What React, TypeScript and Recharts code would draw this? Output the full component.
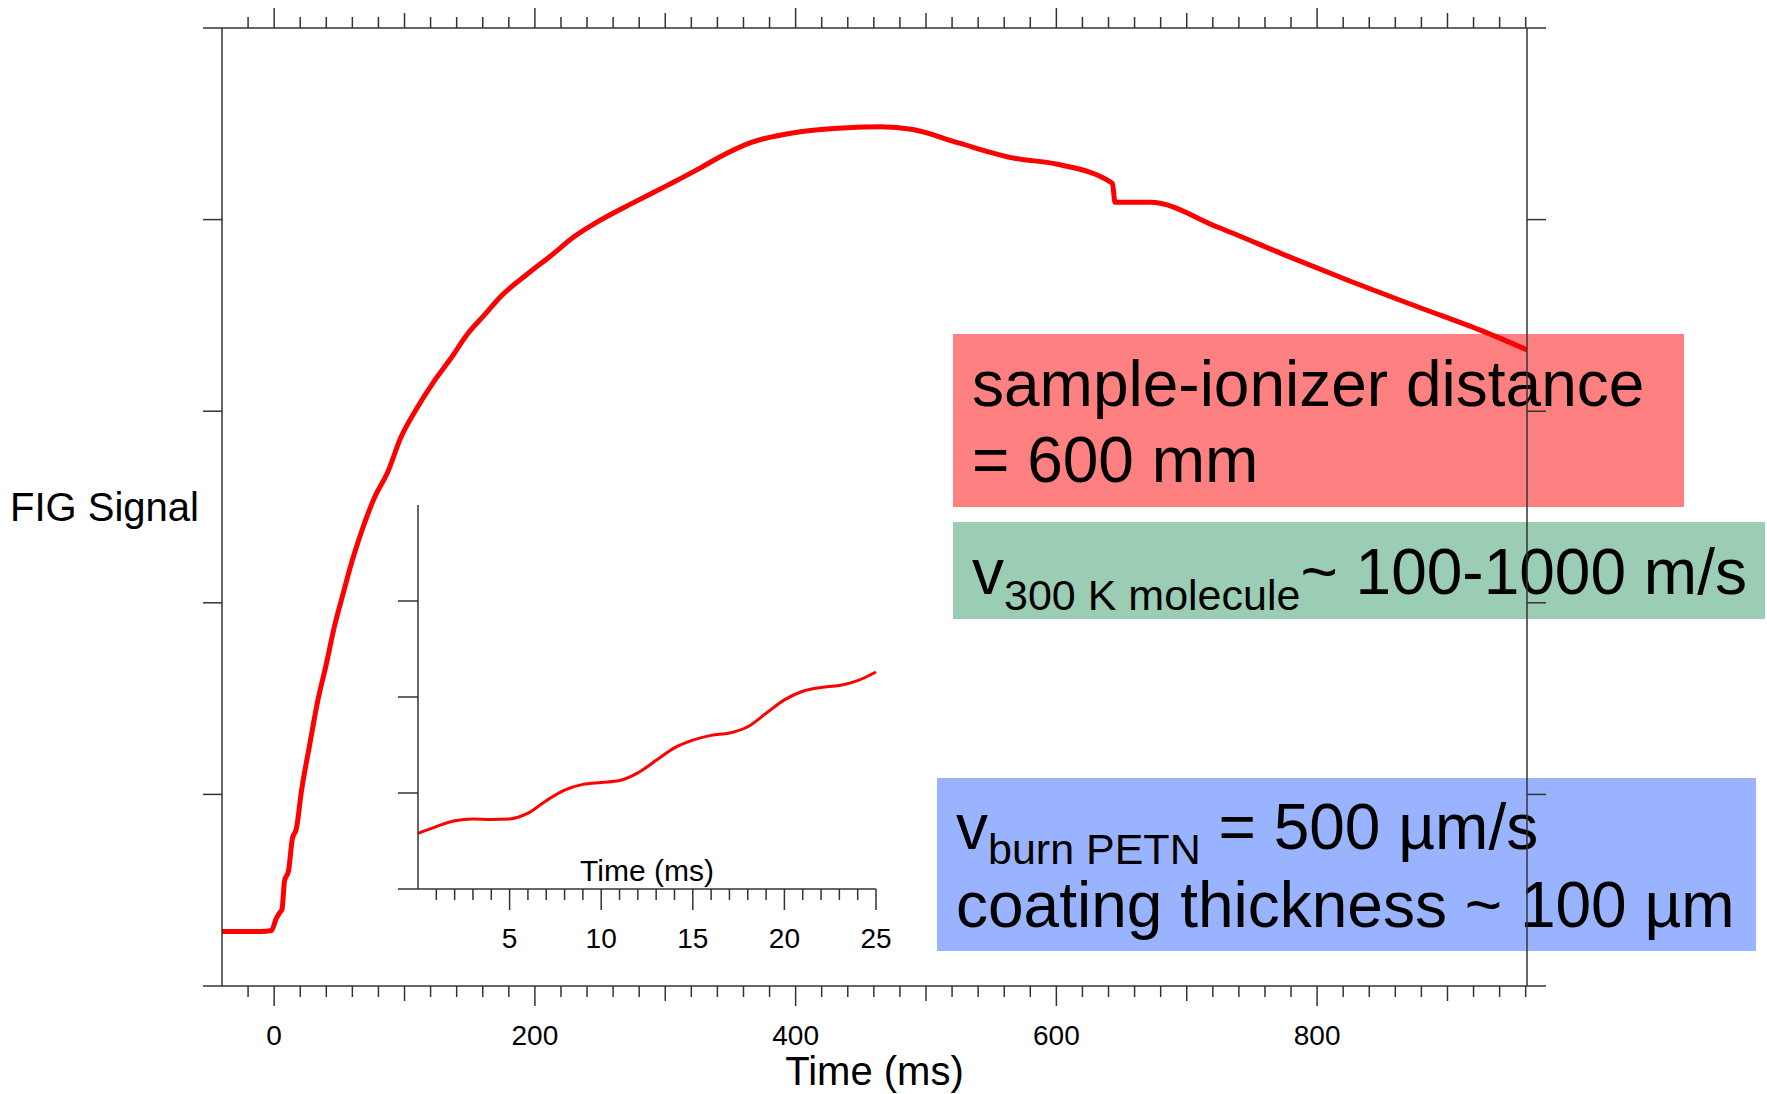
import React from 'react';
import { LineChart, Line, XAxis, YAxis } from 'recharts';

// main trace: FIG signal vs time (ms), y in axis units (5 intervals)
const mainTime = [-40, -30, -20, -10, -2, 1.5, 4, 6, 8, 11, 14, 17, 21, 27, 33.5, 40, 46, 53, 59, 65, 77, 87, 97, 109, 123, 136, 148, 161, 174, 195, 212, 230, 251, 276, 302, 327, 340, 365, 405, 440, 465, 490, 525, 568, 600, 643, 645, 672, 724, 775, 826, 877, 928, 961];
const mainSignal = [0.285, 0.285, 0.285, 0.285, 0.29, 0.35, 0.38, 0.4, 0.55, 0.6, 0.77, 0.82, 1.02, 1.25, 1.49, 1.68, 1.87, 2.05, 2.2, 2.33, 2.55, 2.68, 2.86, 3.01, 3.16, 3.28, 3.4, 3.5, 3.6, 3.72, 3.81, 3.91, 4.0, 4.09, 4.18, 4.27, 4.32, 4.4, 4.46, 4.48, 4.485, 4.47, 4.4, 4.32, 4.29, 4.19, 4.09, 4.09, 3.96, 3.816, 3.677, 3.545, 3.415, 3.32];

// inset: first 25 ms
const insetTime = [0, 1, 2, 3, 4, 5, 6, 7, 8, 9, 10, 11, 12, 13, 14, 15, 16, 17, 18, 19, 20, 21, 22, 23, 24, 25];
const insetSignal = [0.58, 0.65, 0.71, 0.73, 0.725, 0.73, 0.79, 0.92, 1.03, 1.09, 1.11, 1.13, 1.21, 1.34, 1.47, 1.55, 1.6, 1.625, 1.69, 1.83, 1.97, 2.06, 2.1, 2.12, 2.17, 2.26];

const mainTicks = [-20, 0, 20, 40, 60, 80, 100, 120, 140, 160, 180, 200, 220, 240, 260, 280, 300, 320, 340, 360, 380, 400, 420, 440, 460, 480, 500, 520, 540, 560, 580, 600, 620, 640, 660, 680, 700, 720, 740, 760, 780, 800, 820, 840, 860, 880, 900, 920, 940, 960];
const mainTickLabels = [0, 200, 400, 600, 800];
const yTicks = [0, 1, 2, 3, 4, 5];

const insetTicks = [1, 2, 3, 4, 5, 6, 7, 8, 9, 10, 11, 12, 13, 14, 15, 16, 17, 18, 19, 20, 21, 22, 23, 24, 25];
const insetTickLabels = [5, 10, 15, 20, 25];
const insetYTicks = [0, 1, 2, 3];

const FONT = '"Liberation Sans", Arial, sans-serif';
const AXIS = '#333';

const mainData = mainTime.map((t, i) => ({ t, v: mainSignal[i] }));
const insetData = insetTime.map((t, i) => ({ t, v: insetSignal[i] }));

const mainTickLen = (v: number) => (v % 200 === 0 ? 20 : v % 100 === 0 ? 15 : 11);

const BottomTick = (props: any) => {
  const { x, y, payload } = props;
  const v = payload.value;
  return (
    <g>
      <line x1={x} y1={y} x2={x} y2={y + mainTickLen(v)} stroke={AXIS} strokeWidth={1.5} />
      {mainTickLabels.includes(v) && (
        <text x={x} y={y + 59} textAnchor="middle" fontSize={28} fontFamily={FONT} fill="#000">
          {v}
        </text>
      )}
    </g>
  );
};

const TopTick = (props: any) => {
  const { x, y, payload } = props;
  return <line x1={x} y1={y} x2={x} y2={y - mainTickLen(payload.value)} stroke={AXIS} strokeWidth={1.5} />;
};

// y ticks: plain outward marks, no labels
const LeftTick = (props: any) => {
  const { x, y } = props;
  return <line x1={x} y1={y} x2={x - 19} y2={y} stroke={AXIS} strokeWidth={1.5} />;
};

const RightTick = (props: any) => {
  const { x, y } = props;
  return <line x1={x} y1={y} x2={x + 19} y2={y} stroke={AXIS} strokeWidth={1.5} />;
};

const InsetLeftTick = (props: any) => {
  const { x, y } = props;
  return <line x1={x} y1={y} x2={x - 20} y2={y} stroke={AXIS} strokeWidth={1.5} />;
};

const InsetTick = (props: any) => {
  const { x, y, payload } = props;
  const v = payload.value;
  const major = insetTickLabels.includes(v);
  return (
    <g>
      <line x1={x} y1={y} x2={x} y2={y + (major ? 21 : 11)} stroke={AXIS} strokeWidth={1.5} />
      {major && (
        <text x={x} y={y + 59} textAnchor="middle" fontSize={28} fontFamily={FONT} fill="#000">
          {v}
        </text>
      )}
    </g>
  );
};

const Notes = () => (
  <svg width={1767} height={1094} style={{ position: 'absolute', left: 0, top: 0 }} fontFamily={FONT}>
    <rect x={953} y={334} width={731} height={173} fill="#ff8080" />
    <rect x={953} y={522} width={812} height={97} fill="#9bccb4" />
    <rect x={937} y={778} width={819} height={173} fill="#99b3ff" />
    <text x={972} y={406} fontSize={64} fill="#000">sample-ionizer distance</text>
    <text x={972} y={482} fontSize={64} fill="#000">= 600 mm</text>
    <text x={972} y={594} fontSize={64} fill="#000">
      <tspan>v</tspan>
      <tspan fontSize={43} dy={16}>300 K molecule</tspan>
      <tspan dy={-16}>~ 100-1000 m/s</tspan>
    </text>
    <text x={956} y={849} fontSize={64} fill="#000">
      <tspan>v</tspan>
      <tspan fontSize={43} dy={15}>burn PETN</tspan>
      <tspan dy={-15}> = 500 µm/s</tspan>
    </text>
    <text x={956} y={927} fontSize={64} fill="#000">coating thickness ~ 100 µm</text>
  </svg>
);

export default function App() {
  return (
    <div style={{ position: 'absolute', left: 0, top: 0, width: 1767, height: 1094, background: '#fff', fontFamily: FONT }}>
      <Notes />

      {/* main chart */}
      <div style={{ position: 'absolute', left: 0, top: 0 }}>
        <LineChart width={1767} height={1094} data={mainData} margin={{ top: 0, right: 210, bottom: 0, left: 192 }}>
          <XAxis
            xAxisId="bottom"
            dataKey="t"
            type="number"
            domain={[-40, 961]}
            ticks={mainTicks}
            interval={0}
            allowDataOverflow
            height={108}
            tickSize={0}
            tickMargin={0}
            tickLine={false}
            tick={<BottomTick />}
            axisLine={{ stroke: AXIS, strokeWidth: 1.5 }}
            label={{ value: 'Time (ms)', position: 'insideBottom', offset: 9, fontSize: 40, fill: '#000' }}
          />
          <XAxis
            xAxisId="top"
            orientation="top"
            dataKey="t"
            type="number"
            domain={[-40, 961]}
            ticks={mainTicks}
            interval={0}
            allowDataOverflow
            height={28}
            tickSize={0}
            tickMargin={0}
            tickLine={false}
            tick={<TopTick />}
            axisLine={{ stroke: AXIS, strokeWidth: 1.5 }}
          />
          <YAxis
            yAxisId="left"
            type="number"
            domain={[0, 5]}
            ticks={yTicks}
            interval={0}
            width={30}
            tickSize={0}
            tickMargin={0}
            tickLine={false}
            tick={<LeftTick />}
            axisLine={{ stroke: AXIS, strokeWidth: 1.5 }}
            label={{ value: 'FIG Signal', position: 'left', offset: -7, fontSize: 40, fill: '#000' }}
          />
          <YAxis
            yAxisId="right"
            orientation="right"
            dataKey="v"
            type="number"
            domain={[0, 5]}
            ticks={yTicks}
            interval={0}
            allowDataOverflow
            width={30}
            tickSize={0}
            tickMargin={0}
            tickLine={false}
            tick={<RightTick />}
            axisLine={{ stroke: AXIS, strokeWidth: 1.5 }}
          />
          <Line
            xAxisId="bottom"
            yAxisId="left"
            dataKey="v"
            type="monotone"
            stroke="#ff0000"
            strokeWidth={5}
            dot={false}
            isAnimationActive={false}
          />
        </LineChart>
      </div>

      {/* inset: zoom on the first 25 ms */}
      <div style={{ position: 'absolute', left: 380, top: 490 }}>
        <LineChart width={520} height={470} data={insetData} margin={{ top: 15, right: 24, bottom: 0, left: 8 }}>
          <XAxis
            dataKey="t"
            type="number"
            domain={[0, 25]}
            ticks={insetTicks}
            interval={0}
            height={71}
            tickSize={0}
            tickMargin={0}
            tickLine={false}
            tick={<InsetTick />}
            axisLine={{ stroke: AXIS, strokeWidth: 1.5 }}
            label={{ value: 'Time (ms)', position: 'top', offset: 8, fontSize: 30, fill: '#000' }}
          />
          <YAxis
            type="number"
            domain={[0, 4]}
            ticks={insetYTicks}
            interval={0}
            width={30}
            tickSize={0}
            tickMargin={0}
            tickLine={false}
            tick={<InsetLeftTick />}
            axisLine={{ stroke: AXIS, strokeWidth: 1.5 }}
          />
          <Line dataKey="v" type="monotone" stroke="#ff0000" strokeWidth={3} dot={false} isAnimationActive={false} />
        </LineChart>
      </div>
    </div>
  );
}
